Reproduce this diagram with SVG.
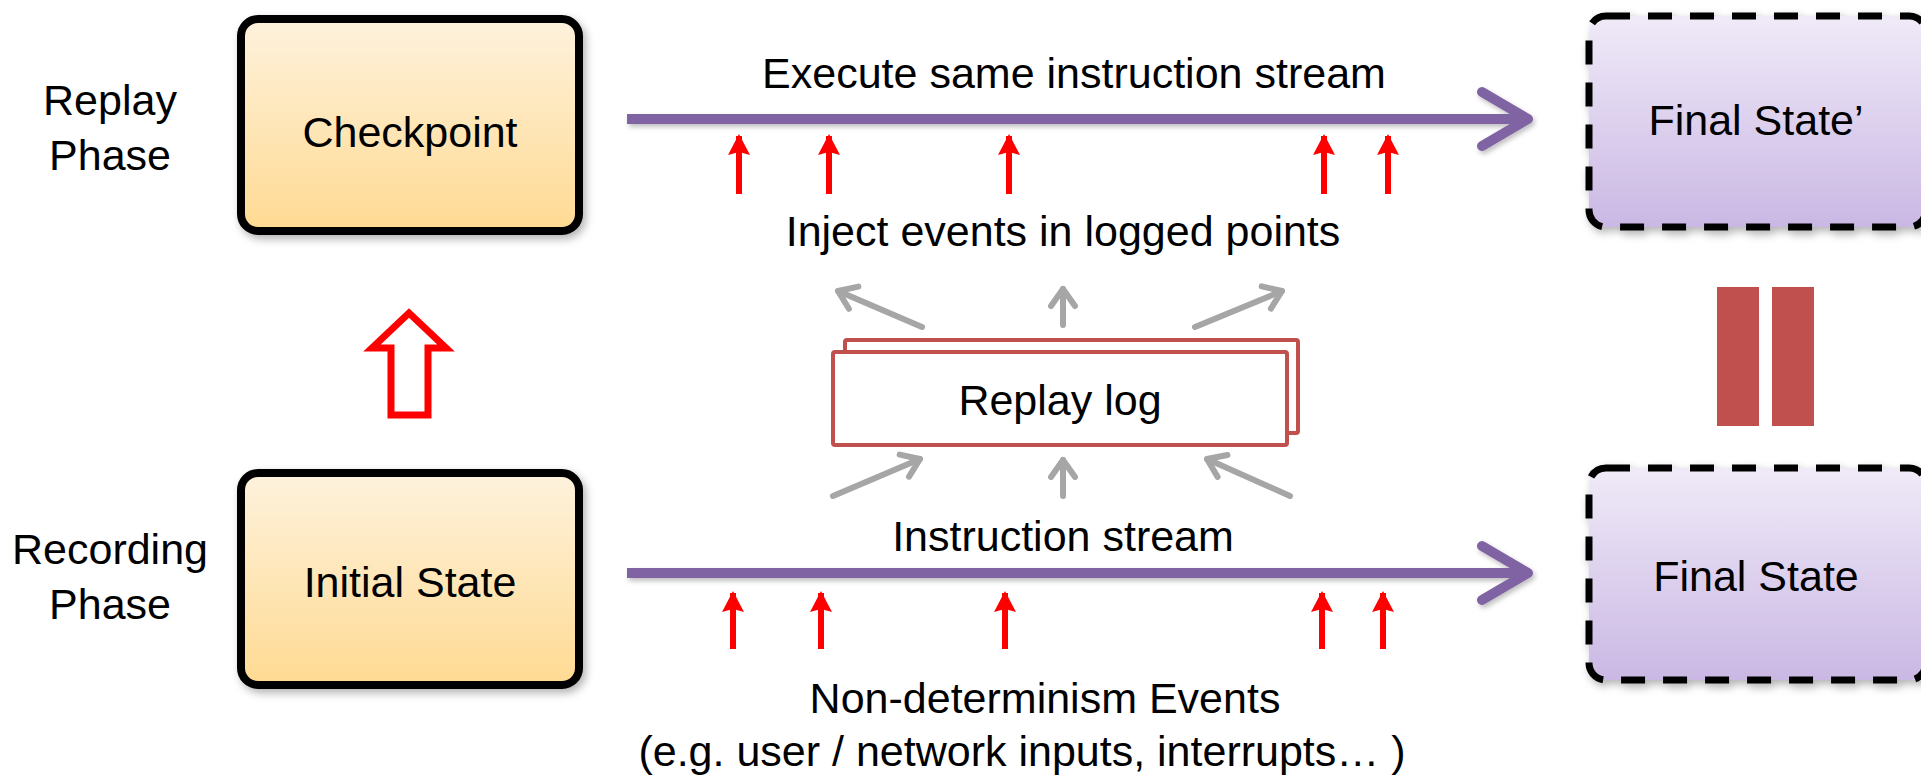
<svg xmlns="http://www.w3.org/2000/svg" width="1921" height="775" viewBox="0 0 1921 775">
<style>
text{font-family:"Liberation Sans",Arial,sans-serif;font-size:43px;fill:#000;text-anchor:middle}
.box{stroke:#000;stroke-width:8}
.dash{stroke:#000;stroke-width:7;stroke-dasharray:24 18}
.purple{stroke:#8064A2;stroke-width:10;fill:none}
.red{stroke:#FF0000;stroke-width:6;fill:none}
.gray{stroke:#A6A6A6;stroke-width:6;fill:none;stroke-linecap:round}
.log{fill:#fff;stroke:#C0504D;stroke-width:4}
</style>
<defs>
<linearGradient id="gOrange" x1="0" y1="0" x2="0" y2="1">
<stop offset="0" stop-color="#FEF2DD"/>
<stop offset="1" stop-color="#FFDA92"/>
</linearGradient>
<linearGradient id="gPurple" x1="0" y1="0" x2="0" y2="1">
<stop offset="0" stop-color="#F0EAF8"/>
<stop offset="1" stop-color="#CAB8E4"/>
</linearGradient>
<filter id="sh" x="-10%" y="-10%" width="125%" height="130%">
<feDropShadow dx="3" dy="4" stdDeviation="4" flood-color="#000" flood-opacity="0.3"/>
</filter>
<filter id="shs" filterUnits="userSpaceOnUse" x="0" y="0" width="1921" height="775">
<feDropShadow dx="2" dy="3" stdDeviation="2.5" flood-color="#000" flood-opacity="0.25"/>
</filter>
<marker id="mPurple" markerUnits="userSpaceOnUse" viewBox="-56 -36 66 72" markerWidth="66" markerHeight="72" refX="0" refY="0" orient="auto" overflow="visible">
<path d="M-46,-27 L0,0 L-46,27" fill="none" stroke="#8064A2" stroke-width="10" stroke-linecap="round" stroke-linejoin="round"/>
</marker>
<marker id="mRed" markerUnits="userSpaceOnUse" viewBox="-24 -12 26 24" markerWidth="26" markerHeight="24" refX="0" refY="0" orient="auto" overflow="visible">
<path d="M2,0 L-19,-11 L-16,0 L-19,11 Z" fill="#FF0000"/>
</marker>
<marker id="mGray" markerUnits="userSpaceOnUse" viewBox="-25 -18 32 36" markerWidth="32" markerHeight="36" refX="0" refY="0" orient="auto" overflow="visible">
<path d="M-17,-12 L0,0 L-17,12" fill="none" stroke="#A6A6A6" stroke-width="6" stroke-linecap="round" stroke-linejoin="round"/>
</marker>
</defs>
<rect width="1921" height="775" fill="#fff"/>

<g id="label-replay">
<text x="110" y="115">Replay</text>
<text x="110" y="170">Phase</text>
</g>
<g id="label-recording">
<text x="110" y="564">Recording</text>
<text x="110" y="619">Phase</text>
</g>

<g id="checkpoint">
<rect class="box" x="241" y="19" width="338" height="212" rx="17" fill="url(#gOrange)" filter="url(#sh)"/>
<text x="410" y="147">Checkpoint</text>
</g>
<g id="initial-state">
<rect class="box" x="241" y="473" width="338" height="212" rx="17" fill="url(#gOrange)" filter="url(#sh)"/>
<text x="410" y="597">Initial State</text>
</g>
<g id="final-state-prime">
<rect class="dash" x="1589" y="16" width="337" height="211" rx="17" fill="url(#gPurple)" filter="url(#sh)"/>
<text x="1756" y="135">Final State’</text>
</g>
<g id="final-state">
<rect class="dash" x="1589" y="468" width="337" height="212" rx="17" fill="url(#gPurple)" filter="url(#sh)"/>
<text x="1756" y="591">Final State</text>
</g>
<g id="replay-log">
<rect class="log" x="845" y="340" width="453" height="93" rx="2"/>
<rect class="log" x="833" y="352" width="454" height="93" rx="2"/>
<text x="1060" y="415">Replay log</text>
</g>
<g id="equals">
<rect x="1717" y="287" width="42" height="139" fill="#C0504D"/>
<rect x="1772" y="287" width="42" height="139" fill="#C0504D"/>
</g>

<g id="connectors">
<g filter="url(#shs)">
<line class="purple" x1="627" y1="119" x2="1528" y2="119" marker-end="url(#mPurple)"/>
<line class="purple" x1="627" y1="573" x2="1528" y2="573" marker-end="url(#mPurple)"/>
</g>
<polygon points="409,313 446,348 428,348 428,415 391,415 391,348 372,348" fill="#fff" stroke="#FF0000" stroke-width="7"/>
<g class="red">
<line x1="739" y1="194" x2="739" y2="136" marker-end="url(#mRed)"/>
<line x1="829" y1="194" x2="829" y2="136" marker-end="url(#mRed)"/>
<line x1="1009" y1="194" x2="1009" y2="136" marker-end="url(#mRed)"/>
<line x1="1324" y1="194" x2="1324" y2="136" marker-end="url(#mRed)"/>
<line x1="1388" y1="194" x2="1388" y2="136" marker-end="url(#mRed)"/>
<line x1="733" y1="649" x2="733" y2="593" marker-end="url(#mRed)"/>
<line x1="821" y1="649" x2="821" y2="593" marker-end="url(#mRed)"/>
<line x1="1005" y1="649" x2="1005" y2="593" marker-end="url(#mRed)"/>
<line x1="1322" y1="649" x2="1322" y2="593" marker-end="url(#mRed)"/>
<line x1="1383" y1="649" x2="1383" y2="593" marker-end="url(#mRed)"/>
</g>
<g class="gray">
<line x1="922" y1="327" x2="838" y2="291" marker-end="url(#mGray)"/>
<line x1="1063" y1="325" x2="1063" y2="289" marker-end="url(#mGray)"/>
<line x1="1195" y1="327" x2="1282" y2="291" marker-end="url(#mGray)"/>
<line x1="833" y1="496" x2="920" y2="459" marker-end="url(#mGray)"/>
<line x1="1063" y1="496" x2="1063" y2="460" marker-end="url(#mGray)"/>
<line x1="1290" y1="496" x2="1207" y2="459" marker-end="url(#mGray)"/>
</g>
</g>

<g id="captions">
<text x="1074" y="88">Execute same instruction stream</text>
<text x="1063" y="246">Inject events in logged points</text>
<text x="1063" y="551">Instruction stream</text>
<text x="1045" y="713">Non-determinism Events</text>
<text x="1022" y="766">(e.g. user / network inputs, interrupts… )</text>
</g>
</svg>
